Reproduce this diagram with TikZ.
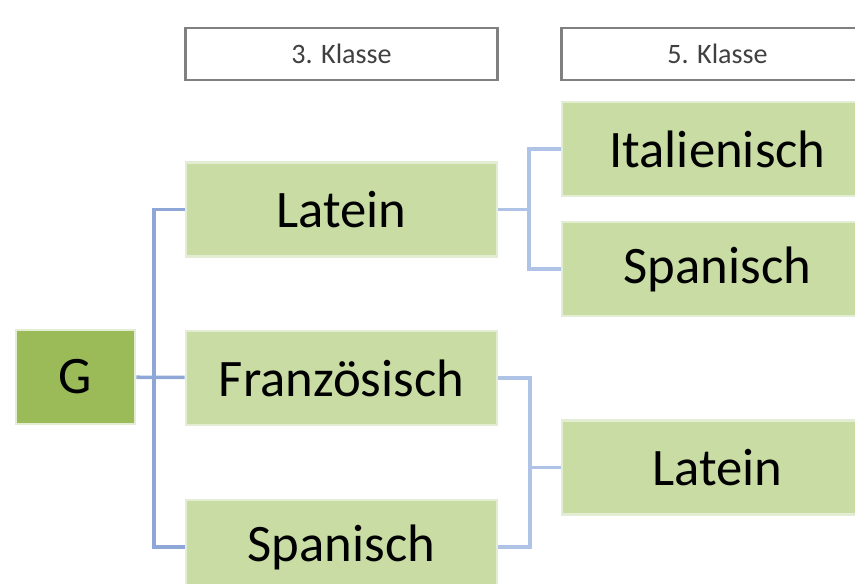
\documentclass[tikz,border=0pt]{standalone}
\usepackage{fontspec}
\setmainfont{Carlito}
\definecolor{hellgruen}{HTML}{C8DCA4}
\definecolor{rahmgruen}{HTML}{E3EDD3}
\definecolor{dunkelgruen}{HTML}{9BBB59}
\definecolor{linie}{HTML}{8EA7D6}
\definecolor{linieh}{HTML}{AFC3E6}
\begin{document}
\begin{tikzpicture}[x=0.02cm,y=-0.02cm,
  fach/.style={rectangle,fill=hellgruen,draw=rahmgruen,line width=1.5pt,minimum width=6.22cm,minimum height=1.88cm,inner sep=0pt,font=\fontsize{30}{32}\selectfont},
  kopf/.style={rectangle,fill=white,draw=black!50,line width=1.4pt,minimum width=6.24cm,minimum height=1.04cm,inner sep=0pt,text=black!75,font=\fontsize{16}{18}\selectfont},
  conn/.style={draw=linie,line width=2pt},
  connh/.style={draw=linieh,line width=2pt}]
\def\ca{341.5};
\def\cb{717.5};
\useasboundingbox (0,0) rectangle (855,583);
\node[kopf] (K3) at (\ca,54) {3. Klasse};
\node[kopf] (K5) at (\cb,54) {5. Klasse};
\node[fach,fill=dunkelgruen,minimum width=2.38cm] (G) at (75.5,377) {G};
\node[fach] (LatA) at (\ca,209.5) {Latein};
\node[fach] (Fra) at (\ca,378) {Französisch};
\node[fach] (SpaA) at (\ca,547) {Spanisch};
\node[fach] (Ita) at (\cb,149) {Italienisch};
\node[fach] (SpaB) at (\cb,269) {Spanisch};
\node[fach] (LatB) at (\cb,467.5) {Latein};
\coordinate (GJ) at (154,378);
\coordinate (LJ) at (529,209.5);
\coordinate (FJ) at (530,467.5);
\draw[conn] (LatA.west) -| (GJ) |- (SpaA.west);
\draw[conn] (G) -- (Fra);
\draw[connh] (LatA) -- (LJ);
\draw[connh] (Ita.west) -| (LJ) |- (SpaB.west);
\draw[connh] (Fra.east) -| (FJ) |- (SpaA.east);
\draw[connh] (FJ) -- (LatB);
\end{tikzpicture}
\end{document}
